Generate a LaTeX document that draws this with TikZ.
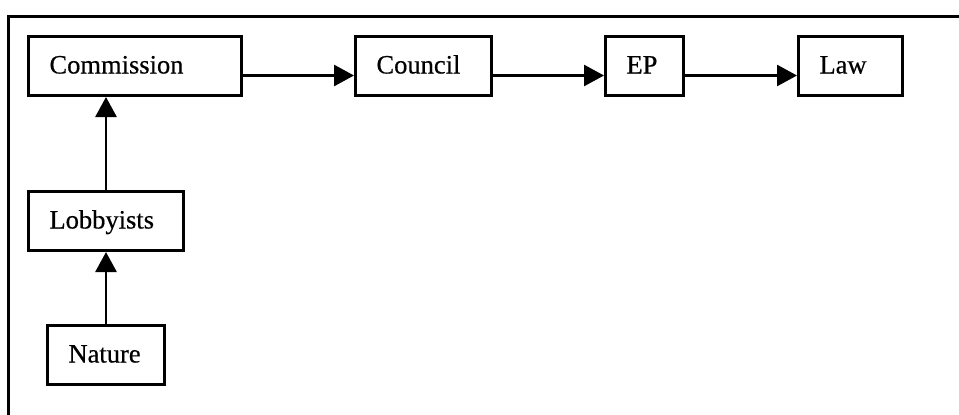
\documentclass[tikz,border=0pt]{standalone}
\usepackage{fontspec}
\setmainfont{Liberation Serif}[FakeBold=0.5]
\usetikzlibrary{arrows.meta}

\begin{document}
\begin{tikzpicture}[x=1pt, y=-1pt,
  box/.style={draw, line width=3pt, anchor=north west, align=left,
    inner xsep=21pt, inner ysep=0pt, text height=37pt, text depth=22pt,
    font=\fontsize{26.5}{30}\selectfont},
  flow/.style={line width=2.8pt, -{Triangle[length=20pt, width=21pt]}}]
  \useasboundingbox (0,0) rectangle (959,415);
  \fill[white] (0,0) rectangle (959,415);

  % open frame: left and top edges only
  \draw[line width=3pt] (8,415) -- (8,16) -- (959,16);

  % legislative chain
  \node[box, text width=171pt] (comm)    at (27,35)  {Commission};
  \node[box, text width=94pt]  (council) at (354,35) {Council};
  \node[box, text width=36pt]  (ep)      at (604,35) {EP};
  \node[box, text width=62pt]  (law)     at (797,35) {Law};

  % influence chain
  \node[box, text width=113pt] (lobby)   at (27,190) {Lobbyists};
  \node[box, text width=75pt]  (nature)  at (46,324) {Nature};

  % horizontal links run a little below the box centres
  \draw[flow] ([yshift=-9.5pt]comm.east)    -- ([yshift=-9.5pt]council.west);
  \draw[flow] ([yshift=-9.5pt]council.east) -- ([yshift=-9.5pt]ep.west);
  \draw[flow] ([yshift=-9.5pt]ep.east)      -- ([yshift=-9.5pt]law.west);
  \draw[flow] (lobby.north)  -- (lobby.north |- comm.south);
  \draw[flow] (nature.north) -- (nature.north |- lobby.south);
\end{tikzpicture}
\end{document}
